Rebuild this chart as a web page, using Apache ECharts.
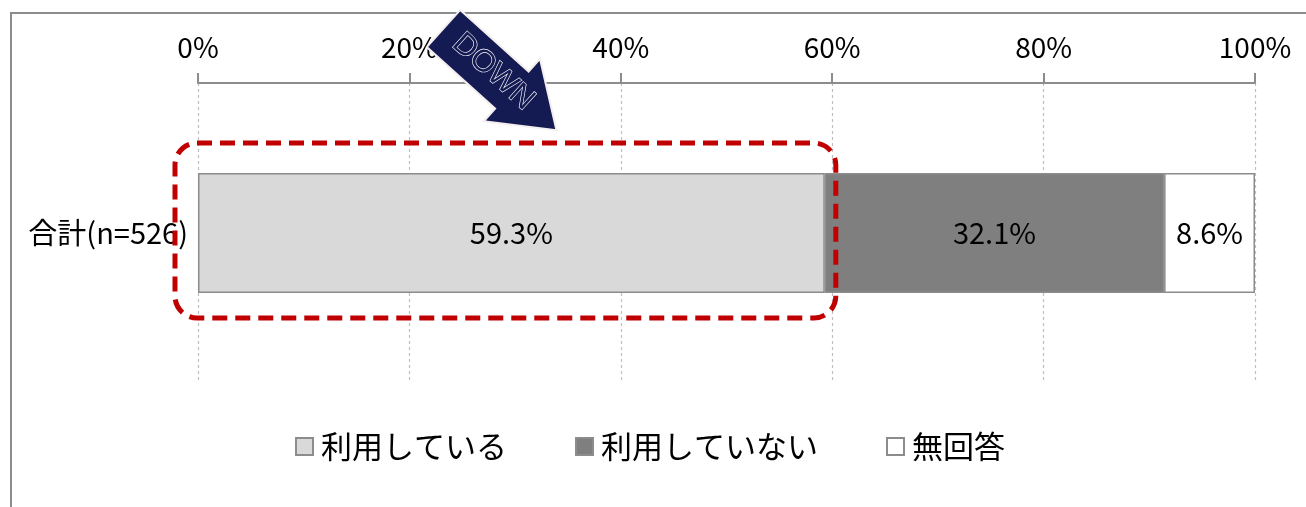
<!DOCTYPE html>
<html><head><meta charset="utf-8">
<script src="https://cdn.jsdelivr.net/npm/echarts@6/dist/echarts.min.js"></script>
<style>html,body{margin:0;padding:0;background:#fff}#c{width:1306px;height:507px}</style>
</head><body><div id="c"></div>
<script>
const categories = ['合計(n=526)'];
const seriesNames = ['利用している', '利用していない', '無回答'];
const valUsing = [59.3];
const valNotUsing = [32.1];
const valNoAnswer = [8.6];
const axisTicks = [0, 20, 40, 60, 80, 100];

const FONT = '"Liberation Sans Narrow", "Arial Narrow", "Noto Sans CJK JP", sans-serif';
const JFONT = '"Noto Sans CJK JP", sans-serif';
const colors = ['#d9d9d9', '#7f7f7f', '#ffffff'];
const values = [valUsing, valNotUsing, valNoAnswer];

const chart = echarts.init(document.getElementById('c'), null, {renderer: 'canvas'});
const option = {
  animation: false,
  backgroundColor: '#fff',
  grid: {left: 198, right: 51, top: 83, bottom: 124, containLabel: false},
  xAxis: {
    type: 'value', position: 'top', min: axisTicks[0], max: axisTicks[axisTicks.length - 1], interval: axisTicks[1] - axisTicks[0],
    axisLine: {show: true, lineStyle: {color: '#8c8c8c', width: 2}},
    axisTick: {show: true, inside: false, length: 10, lineStyle: {color: '#8c8c8c', width: 2}},
    axisLabel: {formatter: v => v + '%', fontFamily: FONT, fontSize: 28, color: '#000', margin: 22},
    splitLine: {show: true, lineStyle: {color: '#bfbfbf', type: [3, 3], width: 1.2}}
  },
  yAxis: {
    type: 'category', data: categories, inverse: true,
    axisLine: {show: false}, axisTick: {show: false},
    axisLabel: {fontFamily: FONT, fontSize: 29, color: '#000', margin: 10}
  },
  legend: {
    data: seriesNames, left: 290, top: 426, itemWidth: 17, itemHeight: 17, itemGap: 68,
    icon: 'rect',
    textStyle: {fontFamily: JFONT, fontSize: 31, color: '#000', padding: [0, 0, 0, 3]}
  },
  series: seriesNames.map((name, i) => ({
    name, type: 'bar', stack: 'total', barWidth: 120,
    data: values[i],
    itemStyle: {color: colors[i], borderColor: '#8c8c8c', borderWidth: 1.5},
    label: {show: true, position: 'inside', formatter: p => p.value.toFixed(1) + '%',
            fontFamily: FONT, fontSize: 29, color: '#000'}
  }))
};
chart.setOption(option);

// annotations
const p0 = chart.convertToPixel({xAxisIndex: 0, yAxisIndex: 0}, [0, 0]);
const p1 = chart.convertToPixel({xAxisIndex: 0, yAxisIndex: 0}, [valUsing[0], 0]);
const boxLeft = p0[0] - 23, boxRight = p1[0] + 11;
const boxTop = p0[1] - 90, boxBottom = p0[1] + 85;

// arrow geometry
const T = [443.5, 28.5], ang = 42 * Math.PI / 180;
const u = [Math.cos(ang), Math.sin(ang)], n = [-Math.sin(ang), Math.cos(ang)];
const pt = (a, b) => [T[0] + a * u[0] + b * n[0], T[1] + a * u[1] + b * n[1]];
const shaft = 92, headLen = 60, hw = 25, hh = 42;
const arrowPts = [pt(0, hw), pt(0, -hw), pt(shaft, -hw), pt(shaft, -hh), pt(shaft + headLen, 0), pt(shaft, hh), pt(shaft, hw)];
const textC = pt(66, -1);

chart.setOption({
  graphic: [
    {type: 'rect', shape: {x: 11, y: 13, width: 1400, height: 600}, style: {fill: 'none', stroke: '#8c8c8c', lineWidth: 2}, silent: true, z: 0},
    {type: 'rect', shape: {x: boxLeft, y: boxTop, width: boxRight - boxLeft, height: boxBottom - boxTop, r: 22},
     style: {fill: 'none', stroke: '#c00000', lineWidth: 5, lineDash: [15, 8]}, z: 100},
    {type: 'polygon', shape: {points: arrowPts}, style: {fill: '#141a52', stroke: '#f4eeee', lineWidth: 2}, z: 101},
    {type: 'text', x: textC[0], y: textC[1], rotation: -ang,
     style: {text: 'DOWN', fontFamily: '"Liberation Sans", sans-serif', fontSize: 31, fill: '#141a52', stroke: '#ffffff', lineWidth: 1.2,
             align: 'center', verticalAlign: 'middle'}, z: 102}
  ]
});
</script></body></html>
